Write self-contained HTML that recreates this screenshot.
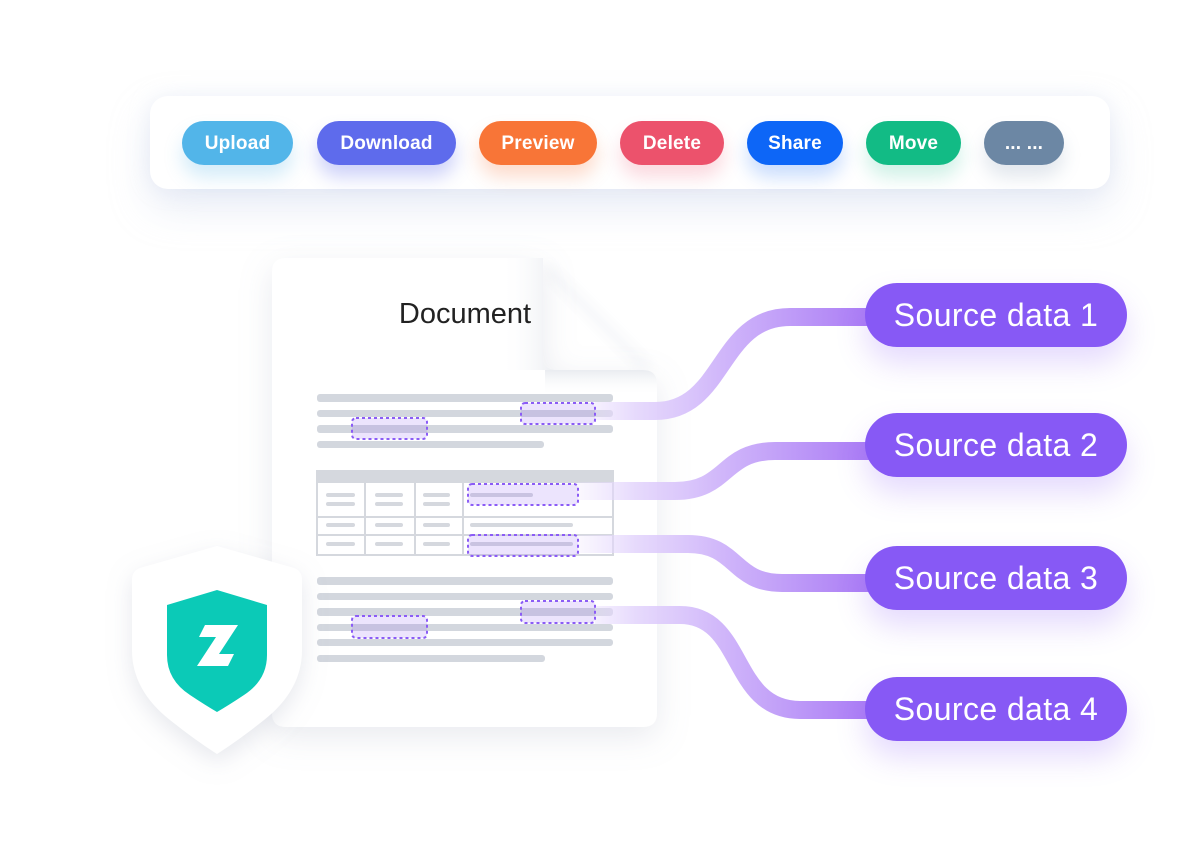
<!DOCTYPE html>
<html><head><meta charset="utf-8">
<style>
html,body{margin:0;padding:0;background:#fff;}
body{width:1200px;height:860px;position:relative;overflow:hidden;font-family:"Liberation Sans",sans-serif;}
.panel{position:absolute;left:150px;top:96px;width:960px;height:93px;border-radius:18px;background:#fff;box-shadow:0 18px 40px rgba(190,200,230,0.35),0 0 20px rgba(220,225,240,0.35);}
.btn{position:absolute;top:121px;height:44px;border-radius:22px;color:#fff;font-weight:bold;font-size:19px;line-height:45px;text-align:center;letter-spacing:0.2px;}
.pill{position:absolute;left:865px;width:262px;height:64px;border-radius:32px;background:#8759f5;color:#fff;font-size:32px;line-height:64px;text-align:center;letter-spacing:0.4px;box-shadow:0 16px 30px rgba(135,88,245,0.22);}
svg{position:absolute;left:0;top:0;}
</style></head><body>

<div class="panel"></div>
<div class="btn" style="left:182px;width:111px;background:#52b5e9;box-shadow:0 12px 18px rgba(82,181,233,0.25)">Upload</div>
<div class="btn" style="left:317px;width:139px;background:#5e6bec;box-shadow:0 12px 18px rgba(94,107,236,0.3)">Download</div>
<div class="btn" style="left:479px;width:118px;background:#f87537;box-shadow:0 12px 18px rgba(248,117,55,0.25)">Preview</div>
<div class="btn" style="left:620px;width:104px;background:#ec526c;box-shadow:0 12px 18px rgba(236,82,108,0.22)">Delete</div>
<div class="btn" style="left:747px;width:96px;background:#0d66f7;box-shadow:0 12px 18px rgba(13,102,247,0.22)">Share</div>
<div class="btn" style="left:866px;width:95px;background:#12bb85;box-shadow:0 12px 18px rgba(18,187,133,0.2)">Move</div>
<div class="btn" style="left:984px;width:80px;background:#6c87a4;box-shadow:0 12px 18px rgba(108,135,164,0.2)">... ...</div>

<svg width="1200" height="860" viewBox="0 0 1200 860">
  <defs>
    <filter id="docsh" x="-20%" y="-20%" width="140%" height="140%">
      <feDropShadow dx="0" dy="10" stdDeviation="16" flood-color="#9aa3b5" flood-opacity="0.22"/>
    </filter>
    <filter id="shsh" x="-30%" y="-30%" width="160%" height="160%">
      <feDropShadow dx="0" dy="8" stdDeviation="12" flood-color="#9aa3b5" flood-opacity="0.25"/>
    </filter>
    <filter id="blur6"><feGaussianBlur stdDeviation="6"/></filter>
    <linearGradient id="foldg" x1="0" y1="0" x2="1" y2="0">
      <stop offset="0" stop-color="#ffffff" stop-opacity="0"/>
      <stop offset="1" stop-color="#e6e9ee" stop-opacity="0.85"/>
    </linearGradient>
    <linearGradient id="foldg2" x1="0" y1="0" x2="0" y2="1">
      <stop offset="0" stop-color="#e6e9ee" stop-opacity="0.85"/>
      <stop offset="1" stop-color="#ffffff" stop-opacity="0"/>
    </linearGradient>
    <linearGradient id="cg" gradientUnits="userSpaceOnUse" x1="578" y1="0" x2="868" y2="0">
      <stop offset="0" stop-color="#e8dcfd" stop-opacity="0.2"/>
      <stop offset="0.2" stop-color="#e2d3fc" stop-opacity="0.85"/>
      <stop offset="0.5" stop-color="#d0b6fa"/>
      <stop offset="1" stop-color="#ab7df5"/>
    </linearGradient>
  </defs>

  <!-- fold faint diagonal shadow -->
  <path d="M548,262 L655,369 L640,369 L545,274 Z" fill="#eef0f4" opacity="0.6" filter="url(#blur6)"/>

  <!-- document -->
  <path filter="url(#docsh)" d="M286,258 H543 V356 Q543,370 557,370 H643 Q657,370 657,384 V713 Q657,727 643,727 H286 Q272,727 272,713 V272 Q272,258 286,258 Z" fill="#ffffff"/>
  <path d="M500,258 H543 V356 Q543,370 557,370 H500 Z" fill="url(#foldg)"/>
  <path d="M545,370 H643 Q657,370 657,384 V396 H545 Z" fill="url(#foldg2)"/>

  <text x="465" y="323" text-anchor="middle" font-family="Liberation Sans, sans-serif" font-size="29" fill="#222">Document</text>

  <!-- top text lines -->
  <g fill="#d3d7de">
    <rect x="317" y="394" width="296" height="8" rx="3"/>
    <rect x="317" y="410" width="296" height="7" rx="3"/>
    <rect x="317" y="425" width="296" height="8" rx="3"/>
    <rect x="317" y="441" width="227" height="7" rx="3"/>
  </g>

  <!-- table -->
  <rect x="316" y="470" width="298" height="12" fill="#d5d8de"/>
  <g fill="none" stroke="#d5d8de" stroke-width="2">
    <rect x="317" y="482" width="296" height="73"/>
    <line x1="317" y1="517" x2="613" y2="517"/>
    <line x1="317" y1="535" x2="613" y2="535"/>
    <line x1="365" y1="482" x2="365" y2="555"/>
    <line x1="415" y1="482" x2="415" y2="555"/>
    <line x1="463" y1="482" x2="463" y2="555"/>
  </g>
  <g fill="#d5d8de">
    <rect x="326" y="493" width="29" height="4" rx="2"/>
    <rect x="326" y="502" width="29" height="4" rx="2"/>
    <rect x="375" y="493" width="28" height="4" rx="2"/>
    <rect x="375" y="502" width="28" height="4" rx="2"/>
    <rect x="423" y="493" width="27" height="4" rx="2"/>
    <rect x="423" y="502" width="27" height="4" rx="2"/>
    <rect x="470" y="493" width="63" height="4" rx="2"/>
    <rect x="326" y="523" width="29" height="4" rx="2"/>
    <rect x="375" y="523" width="28" height="4" rx="2"/>
    <rect x="423" y="523" width="27" height="4" rx="2"/>
    <rect x="470" y="523" width="103" height="4" rx="2"/>
    <rect x="326" y="542" width="29" height="4" rx="2"/>
    <rect x="375" y="542" width="28" height="4" rx="2"/>
    <rect x="423" y="542" width="27" height="4" rx="2"/>
    <rect x="470" y="542" width="103" height="4" rx="2"/>
  </g>

  <!-- bottom text lines -->
  <g fill="#d3d7de">
    <rect x="317" y="577" width="296" height="8" rx="3"/>
    <rect x="317" y="593" width="296" height="7" rx="3"/>
    <rect x="317" y="608" width="296" height="8" rx="3"/>
    <rect x="317" y="624" width="296" height="7" rx="3"/>
    <rect x="317" y="639" width="296" height="7" rx="3"/>
    <rect x="317" y="655" width="228" height="7" rx="3"/>
  </g>

  <!-- connectors -->
  <g fill="none" stroke="url(#cg)" stroke-width="18">
    <path d="M595,411 H655 C725,411 718,317 790,317 H872"/>
    <path d="M578,491 H675 C728,491 722,451 775,451 H872"/>
    <path d="M578,544 H688 C738,544 732,583 782,583 H872"/>
    <path d="M595,615 H680 C745,615 730,710 800,710 H872"/>
  </g>

  <!-- dashed highlight boxes -->
  <g fill="rgba(140,95,245,0.17)" stroke="#8b5cf6" stroke-width="2" stroke-dasharray="3 3">
    <rect x="521" y="403" width="74" height="21" rx="4"/>
    <rect x="352" y="418" width="75" height="21" rx="4"/>
    <rect x="468" y="484" width="110" height="21" rx="4"/>
    <rect x="468" y="535" width="110" height="21" rx="4"/>
    <rect x="521" y="601" width="74" height="22" rx="4"/>
    <rect x="352" y="616" width="75" height="22" rx="4"/>
  </g>

  <!-- shield -->
  <path filter="url(#shsh)" d="M217,546 L140,568 Q132,571 132,580 L132,650 Q132,690 170,720 Q195,740 217,754 Q239,740 264,720 Q302,690 302,650 L302,580 Q302,571 294,568 Z" fill="#ffffff"/>
  <path d="M217,590 L167,605 L167,655 Q167,680 190,695 Q205,705 217,712 Q229,705 244,695 Q267,680 267,655 L267,605 Z" fill="#0bcab7"/>
  <path d="M205,625 L238,625 L219,654 L234,654 L228,666 L197,666 L216,637 L199,637 Z" fill="#ffffff"/>
</svg>

<div class="pill" style="top:283px">Source data 1</div>
<div class="pill" style="top:413px">Source data 2</div>
<div class="pill" style="top:546px">Source data 3</div>
<div class="pill" style="top:677px">Source data 4</div>

</body></html>
